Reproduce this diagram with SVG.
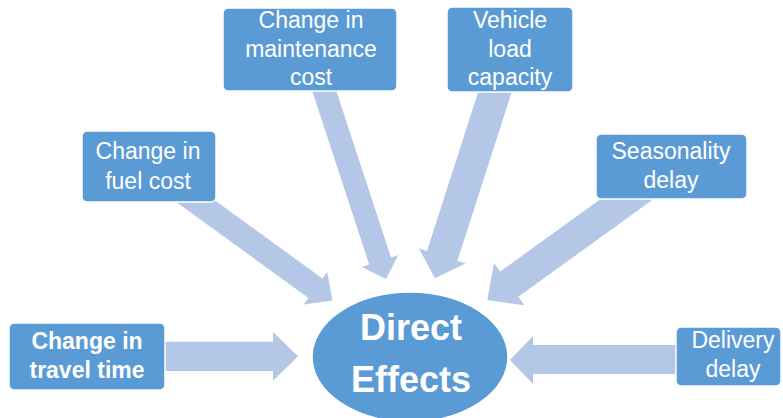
<svg xmlns="http://www.w3.org/2000/svg" width="783" height="418" viewBox="0 0 783 418">
<style>
.arrow{fill:#B4C7E7;stroke:none}
.box{fill:#5B9BD5;stroke:#FFFFFF;stroke-width:1.5}
.t{font-family:"Liberation Sans",Arial,sans-serif;font-size:23px;fill:#FFFFFF;text-anchor:middle}
.tb{font-family:"Liberation Sans",Arial,sans-serif;font-size:23px;font-weight:bold;fill:#FFFFFF;text-anchor:middle}
.big{font-family:"Liberation Sans",Arial,sans-serif;font-size:36px;font-weight:bold;fill:#FFFFFF;text-anchor:middle}
</style>
<rect width="783" height="418" fill="#FFFFFF"/>
<g id="connectors">
<polygon class="arrow" points="160,341.7 273,341.7 273,332 298,356.3 273,380.7 273,371 160,371"/>
<polygon class="arrow" points="680,345 533,345 533,336 510,360 533,384 533,374 680,374"/>
<polygon class="arrow" points="170.7,198 308.5,297.9 303.8,304.4 332.5,300.5 327.2,272 322.5,278.5 184.8,178.6"/>
<polygon class="arrow" points="311.1,87.6 369.2,264.5 361.8,267 386,279 398.4,254.9 391,257.4 332.9,80.4"/>
<polygon class="arrow" points="513.8,85.6 457.4,260.8 465.5,263.4 435,278.3 418.9,248.4 427,251 483.4,75.8"/>
<polygon class="arrow" points="660.5,194.1 518.3,296.8 524.4,305.3 487.3,300 494,263.1 500.1,271.6 642.3,168.9"/>
</g>
<g id="node-travel">
<rect class="box" x="9" y="323" width="156" height="67" rx="5"/>
<text class="tb" x="87" y="348.5">Change in</text>
<text class="tb" x="87" y="378">travel time</text>
</g>
<g id="node-fuel">
<rect class="box" x="82" y="131" width="134" height="71" rx="5"/>
<text class="t" x="148" y="158.5">Change in</text>
<text class="t" x="148" y="188.5">fuel cost</text>
</g>
<g id="node-maintenance">
<rect class="box" x="223" y="8" width="174" height="83" rx="5"/>
<text class="t" x="311" y="28">Change in</text>
<text class="t" x="311" y="57">maintenance</text>
<text class="t" x="311" y="85">cost</text>
</g>
<g id="node-vehicle">
<rect class="box" x="447" y="7" width="126" height="85" rx="5"/>
<text class="t" x="510" y="28">Vehicle</text>
<text class="t" x="510" y="57">load</text>
<text class="t" x="510" y="85">capacity</text>
</g>
<g id="node-seasonality">
<rect class="box" x="596" y="134" width="151" height="65" rx="5"/>
<text class="t" x="671" y="159">Seasonality</text>
<text class="t" x="671" y="188">delay</text>
</g>
<g id="node-delivery">
<rect class="box" x="676" y="327" width="105" height="59" rx="5"/>
<text class="t" x="733" y="348">Delivery</text>
<text class="t" x="733" y="377">delay</text>
</g>
<g id="node-direct">
<ellipse cx="410" cy="357" rx="98" ry="65" fill="#5B9BD5" stroke="#FFFFFF" stroke-width="1.5"/>
<text class="big" x="411" y="340">Direct</text>
<text class="big" x="411" y="392">Effects</text>
</g>
</svg>
